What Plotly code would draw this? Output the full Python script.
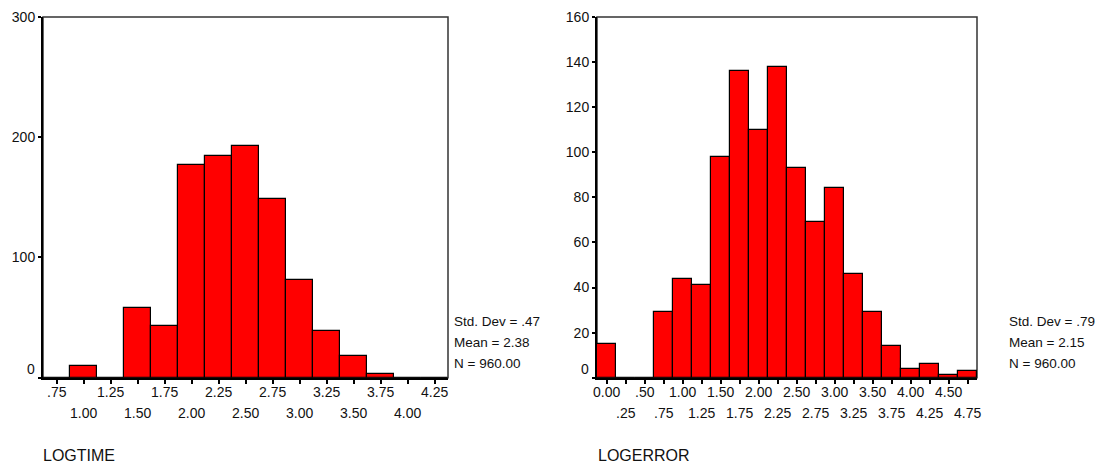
import plotly.graph_objects as go

# ---------------- data ----------------
logtime_bins = [0.75, 1.00, 1.25, 1.50, 1.75, 2.00, 2.25, 2.50, 2.75, 3.00, 3.25, 3.50, 3.75, 4.00, 4.25]
logtime_counts = [0, 10, 0, 58, 43, 177, 184, 193, 149, 81, 39, 18, 3, 0, 0]
logtime_labels = [".75", "1.00", "1.25", "1.50", "1.75", "2.00", "2.25", "2.50", "2.75",
                  "3.00", "3.25", "3.50", "3.75", "4.00", "4.25"]
logtime_yticks = [0, 100, 200, 300]
logtime_stats = ["Std. Dev = .47", "Mean = 2.38", "N = 960.00"]

logerror_bins = [0.00, 0.25, 0.50, 0.75, 1.00, 1.25, 1.50, 1.75, 2.00, 2.25, 2.50, 2.75,
                 3.00, 3.25, 3.50, 3.75, 4.00, 4.25, 4.50, 4.75]
logerror_counts = [15, 0, 0, 29, 44, 41, 98, 136, 110, 138, 93, 69, 84, 46, 29, 14, 4, 6, 1, 3]
logerror_labels = ["0.00", ".25", ".50", ".75", "1.00", "1.25", "1.50", "1.75", "2.00", "2.25",
                   "2.50", "2.75", "3.00", "3.25", "3.50", "3.75", "4.00", "4.25", "4.50", "4.75"]
logerror_yticks = [0, 20, 40, 60, 80, 100, 120, 140, 160]
logerror_stats = ["Std. Dev = .79", "Mean = 2.15", "N = 960.00"]

BIN_W = 0.25
W, H = 1097, 466
FONT = "Liberation Sans, Arial, sans-serif"
TXT = "#111111"
TICK_SIZE = 14


def px(x):
    return x / W


def py(y):
    return (H - y) / H


fig = go.Figure()

panels = [
    dict(bins=logtime_bins, counts=logtime_counts, labels=logtime_labels, yticks=logtime_yticks,
         stats=logtime_stats, title="LOGTIME", x0=43, x1=448, ymax=300,
         stat_x=452, title_x=41, xa="x", ya="y"),
    dict(bins=logerror_bins, counts=logerror_counts, labels=logerror_labels, yticks=logerror_yticks,
         stats=logerror_stats, title="LOGERROR", x0=597, x1=977, ymax=160,
         stat_x=1007, title_x=596, xa="x2", ya="y2"),
]

top_px, bot_px = 17, 377.7
annotations = []
shapes = []
for i, p in enumerate(panels):
    fig.add_trace(go.Bar(
        x=p["bins"], y=p["counts"], width=BIN_W,
        marker=dict(color="#FF0000", line=dict(color="#000000", width=1.2)),
        xaxis=p["xa"], yaxis=p["ya"], showlegend=False, hoverinfo="x+y",
    ))
    sfx = "" if i == 0 else "2"
    lo = p["bins"][0] - BIN_W / 2
    hi = p["bins"][-1] + BIN_W / 2
    fig.update_layout(**{
        "xaxis" + sfx: dict(
            domain=[px(p["x0"]), px(p["x1"])], range=[lo, hi], anchor="y" + sfx,
            showline=True, linecolor="#000000", linewidth=2,
            ticks="outside", ticklen=4, tickwidth=2, tickcolor="#000000",
            tickvals=p["bins"], showticklabels=False, showgrid=False, zeroline=False,
            fixedrange=True, automargin=False,
        ),
        "yaxis" + sfx: dict(
            domain=[py(bot_px), py(top_px)], range=[0, p["ymax"]], anchor="x" + sfx,
            showline=True, linecolor="#000000", linewidth=2,
            ticks="outside", ticklen=3, tickwidth=2, tickcolor="#000000",
            tickvals=p["yticks"],
            ticktext=["" if v == 0 else str(v) for v in p["yticks"]],
            tickfont=dict(family=FONT, size=TICK_SIZE, color=TXT),
            showgrid=False, zeroline=False, fixedrange=True, automargin=False,
        ),
    })
    # plot box (top / right border)
    shapes.append(dict(type="rect", xref=p["xa"] + " domain", yref=p["ya"] + " domain",
                       x0=0, x1=1, y0=0, y1=1, line=dict(color="#333333", width=1.5),
                       layer="below"))
    # raised "0" label
    annotations.append(dict(x=0, y=0, xref=p["xa"] + " domain", yref=p["ya"],
                            text="0", showarrow=False, xanchor="right", yanchor="middle",
                            xshift=-6, yshift=9, font=dict(family=FONT, size=TICK_SIZE, color=TXT)))
    # two-row x tick labels
    for k, (b, lab) in enumerate(zip(p["bins"], p["labels"])):
        row_y = 392 if k % 2 == 0 else 413
        annotations.append(dict(x=b, y=py(row_y), xref=p["xa"], yref="paper", text=lab,
                                showarrow=False, xanchor="center", yanchor="middle",
                                font=dict(family=FONT, size=TICK_SIZE, color=TXT)))
    # stats
    for j, s in enumerate(p["stats"]):
        annotations.append(dict(x=px(p["stat_x"]), y=py(321 + 21.3 * j), xref="paper", yref="paper",
                                text=s, showarrow=False, xanchor="left", yanchor="middle",
                                font=dict(family=FONT, size=13.5, color=TXT)))
    # axis title
    annotations.append(dict(x=px(p["title_x"]), y=py(455), xref="paper", yref="paper",
                            text=p["title"], showarrow=False, xanchor="left", yanchor="middle",
                            font=dict(family=FONT, size=16, color=TXT)))

fig.update_layout(
    width=W, height=H, margin=dict(l=0, r=0, t=0, b=0, pad=0),
    paper_bgcolor="#FFFFFF", plot_bgcolor="#FFFFFF",
    bargap=0, annotations=annotations, shapes=shapes,
    font=dict(family=FONT, size=13, color=TXT),
)

fig.write_html(
    "out.html",
    config={"displayModeBar": False},
    post_script="document.body.style.margin='0';document.body.style.overflow='hidden';",
)
